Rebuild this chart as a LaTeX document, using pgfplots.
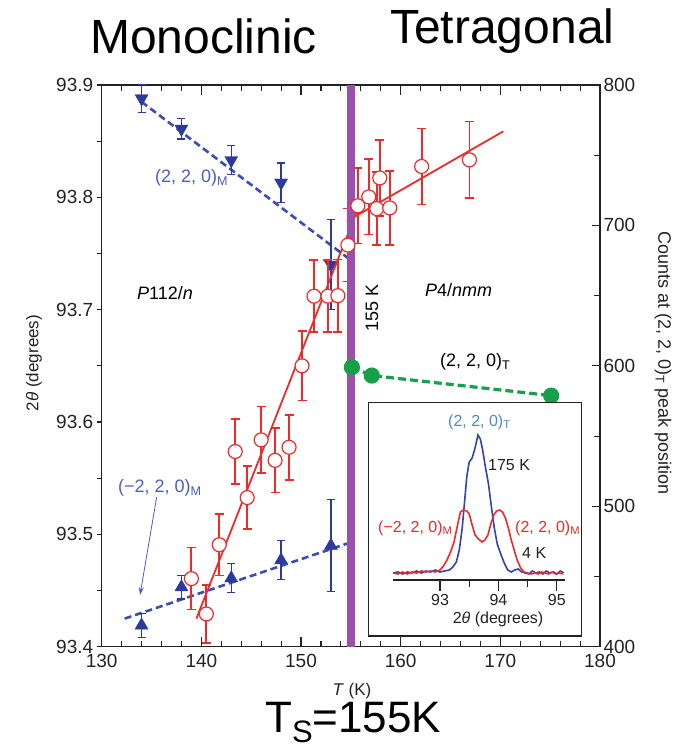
\documentclass[border=0pt]{standalone}
\usepackage{fontspec}
\setmainfont{Liberation Sans}
\usepackage{pgfplots}
\pgfplotsset{compat=1.18}
\usetikzlibrary{arrows.meta}

\definecolor{triblue}{HTML}{2B3A9C}
\definecolor{dashblue}{HTML}{3A4DB5}
\definecolor{lblblue}{HTML}{4A5DC4}
\definecolor{ptred}{HTML}{EE2A2A}
\definecolor{ptgreen}{HTML}{16A04A}
\definecolor{tspurple}{HTML}{9B50AA}
\definecolor{insetblue}{HTML}{3344AA}
\definecolor{insetlbl}{HTML}{4F86D8}
\definecolor{axisgray}{HTML}{222222}

\newcommand{\fs}[1]{\fontsize{#1}{#1}\selectfont}

\pgfplotsset{
  mainframe/.style={
    scale only axis, width=498.3pt, height=561.7pt,
    at={(101.7pt,100.3pt)}, anchor=south west,
    xmin=130, xmax=180,
    axis line style={line width=1.2pt, axisgray},
    every tick/.style={line width=1.1pt, axisgray},
    ticklabel style={font=\fs{19}, text=axisgray},
    /pgf/number format/assume math mode=true,
  },
}

\begin{document}
\begin{tikzpicture}[x=1pt, y=1pt, lbl/.style={inner sep=0pt}]
\path[use as bounding box] (0,0) rectangle (690,747);

% 2theta of the monoclinic reflections (left scale)
\begin{axis}[mainframe, ymin=93.4, ymax=93.9, ytick=\empty,
  xtick={130,140,150,160,170,180}, minor x tick num=4,
  xticklabel style={yshift=-4pt},
  tick align=inside, major tick length=10pt, minor tick length=6pt]
  % (2,2,0)_M
  \addplot[dashblue, line width=2.6pt, dash pattern=on 7pt off 4pt] coordinates {(134,93.885) (155,93.744)};
  \addplot[only marks, mark=triangle*, mark size=7.5pt, color=triblue,
    mark options={rotate=180, fill=triblue},
    error bars/.cd, y dir=both, y explicit,
    error bar style={line width=1.2pt, triblue},
    error mark options={rotate=90, triblue, mark size=4pt, line width=1.2pt}]
  coordinates {
    (134,93.888) +- (0,0.0125)
    (138,93.861) +- (0,0.009)
    (143,93.833) +- (0,0.013)
    (148,93.813) +- (0,0.0175)
    (153,93.740) +- (0,0.040)
  };
  % (-2,2,0)_M
  \addplot[dashblue, line width=2.6pt, dash pattern=on 7pt off 4pt] coordinates {(132.3,93.425) (154.7,93.492)};
  \addplot[only marks, mark=triangle*, mark size=7.5pt, color=triblue,
    mark options={fill=triblue},
    error bars/.cd, y dir=both, y explicit,
    error bar style={line width=1.2pt, triblue},
    error mark options={rotate=90, triblue, mark size=4pt, line width=1.2pt}]
  coordinates {
    (134,93.419) +- (0,0.0105)
    (138,93.453) +- (0,0.0105)
    (143,93.461) +- (0,0.013)
    (148,93.477) +- (0,0.0175)
    (153,93.490) +- (0,0.041)
  };
\end{axis}

% left scale with outward ticks
\begin{axis}[mainframe, ymin=93.4, ymax=93.9, axis x line=none, axis y line*=left,
  ytick={93.4,93.5,93.6,93.7,93.8,93.9}, minor y tick num=1,
  tick align=outside, major tick length=5pt, minor tick length=5pt,
  yticklabel style={/pgf/number format/.cd, fixed, fixed zerofill, precision=1}]
\end{axis}

% counts at the tetragonal peak position (right scale)
\begin{axis}[mainframe, ymin=400, ymax=800, axis x line=none, axis y line*=right,
  ytick={400,500,600,700,800}, minor y tick num=1,
  tick align=inside, major tick length=8pt, minor tick length=6pt]
  % linear fits below and above T_S
  \addplot[ptred, line width=1.8pt] coordinates {(139.5,420) (155.6,710)};
  \addplot[ptred, line width=1.8pt] coordinates {(154.6,703) (170.3,767)};
  \addplot[only marks, mark=*, mark size=7pt, color=ptred,
    mark options={draw=ptred, fill=white, line width=1.2pt},
    error bars/.cd, y dir=both, y explicit,
    error bar style={line width=1.8pt, ptred},
    error mark options={rotate=90, ptred, mark size=4.5pt, line width=1.6pt}]
  coordinates {
    (139.0,448.5) +- (0,22)
    (140.5,423.3) +- (0,20.6)
    (141.8,472.6) +- (0,21.8)
    (143.4,539.0) +- (0,23.2)
    (144.6,506.2) +- (0,22.5)
    (146.0,547.3) +- (0,23.7)
    (147.4,532.7) +- (0,23.0)
    (148.8,542.0) +- (0,23.2)
    (150.1,600.0) +- (0,24.7)
    (151.3,649.6) +- (0,25.6)
    (152.7,649.6) +- (0,25.6)
    (153.7,650.0) +- (0,25.8)
    (154.7,686.0) +- (0,26.0)
    (155.7,714.0) +- (0,26.8)
    (156.8,720.3) +- (0,26.8)
    (157.6,712.0) +- (0,26.0)
    (157.9,733.8) +- (0,27.0)
    (158.9,712.5) +- (0,26.4)
    (162.1,742.0) +- (0,27.0)
    (166.9,746.7) +- (0,27.3)
  };
  % (2,2,0)_T counts
  \addplot[ptgreen, line width=3.2pt, dash pattern=on 8pt off 4pt,
    mark=*, mark size=6.5pt, mark options={solid, fill=ptgreen}]
  coordinates {(155.1,599.0) (157.1,593.1) (175.1,578.8)};
  % structural transition
  \addplot[tspurple, line width=8pt] coordinates {(155,400) (155,800)};
\end{axis}

% inset: line scans at 175 K and 4 K
\draw[draw=axisgray, fill=white, line width=1.2pt] (368.3,111) rectangle (581.7,344.3);
\begin{axis}[scale only axis, width=172.3pt, height=160pt,
  at={(392.7pt,167pt)}, anchor=south west,
  xmin=92.19, xmax=95.14, ymin=0, ymax=160,
  axis x line*=bottom, axis y line=none,
  axis line style={line width=1.2pt, axisgray},
  every tick/.style={line width=1.1pt, axisgray},
  xtick={93,94,95}, minor xtick={93.5,94.5},
  tick align=outside, major tick length=11pt, minor tick length=7pt,
  ticklabel style={font=\fs{16}, text=axisgray},
  /pgf/number format/assume math mode=true, clip=false]
  \addplot[insetblue, line width=1.6pt] coordinates {
    (92.20,7) (92.28,8) (92.36,6) (92.44,8) (92.52,7) (92.60,9) (92.68,7)
    (92.76,9) (92.84,8) (92.92,10) (93.00,8) (93.08,9) (93.16,10) (93.22,13)
    (93.28,18) (93.33,30) (93.38,52) (93.42,78) (93.46,104) (93.50,118)
    (93.55,122) (93.60,132) (93.65,145) (93.69,141) (93.73,130) (93.78,112)
    (93.83,96) (93.88,73) (93.93,52) (93.98,36) (94.04,26) (94.10,17)
    (94.16,10) (94.22,8) (94.28,10) (94.34,11) (94.40,8) (94.46,7) (94.52,6)
    (94.58,9) (94.64,7) (94.70,8) (94.76,6) (94.82,9) (94.88,7) (94.94,8)
    (95.00,6) (95.06,9) (95.12,7)
  };
  \addplot[ptred, line width=1.6pt] coordinates {
    (92.20,7) (92.28,6) (92.36,8) (92.44,6) (92.52,8) (92.60,7) (92.68,9)
    (92.76,8) (92.84,9) (92.92,8) (93.00,10) (93.06,14) (93.12,20) (93.18,28)
    (93.24,38) (93.30,55) (93.35,68) (93.40,70) (93.46,69) (93.50,66)
    (93.55,55) (93.60,45) (93.66,41) (93.72,38) (93.77,40) (93.82,45)
    (93.87,56) (93.92,65) (93.97,69) (94.02,70) (94.07,68) (94.12,62)
    (94.17,52) (94.22,40) (94.27,30) (94.32,20) (94.38,12) (94.44,8)
    (94.50,7) (94.56,6) (94.62,7) (94.68,6) (94.74,8) (94.80,7) (94.86,6)
    (94.92,8) (94.98,6) (95.04,7) (95.10,6)
  };
\end{axis}

% titles
\node[lbl, anchor=base west, font=\fs{48}] at (90,693) {Monoclinic};
\node[lbl, anchor=base west, font=\fs{48}] at (390,703) {Tetragonal};
\node[lbl, anchor=base west, font=\fs{44}] at (265,14) {T\raisebox{-9pt}{\fs{31}S}=155K};

% axis labels
\node[lbl, anchor=base, font=\fs{17}, text=axisgray] at (352,51) {\textit{T} (K)};
\node[lbl, rotate=90, font=\fs{17}, text=axisgray] at (34,384) {2\textit{θ} (degrees)};
\node[lbl, rotate=-90, font=\fs{18}, text=axisgray] at (663,384) {Counts at (2, 2, 0)\textsubscript{T} peak position};

% annotations in the main panel
\node[lbl, anchor=west, text=lblblue, font=\fs{18}] at (155,569) {(2, 2, 0)\textsubscript{M}};
\node[lbl, anchor=west, font=\fs{18}] at (137,454) {\textit{P}112/\textit{n}};
\node[lbl, anchor=west, text=lblblue, font=\fs{18}] at (118,259) {(−2, 2, 0)\textsubscript{M}};
\draw[lblblue, line width=0.8pt, -{Stealth[length=8pt,width=5pt]}] (156.7,250) -- (140,152);
\node[lbl, rotate=90, font=\fs{18}] at (372,439) {155 K};
\node[lbl, anchor=west, font=\fs{18}] at (425,457) {\textit{P}4/\textit{nmm}};
\node[lbl, anchor=west, font=\fs{18}] at (440,385) {(2, 2, 0)\textsubscript{T}};

% annotations in the inset
\begin{scope}[every node/.append style={font=\fs{16}}]
\node[lbl, anchor=west, text=insetlbl] at (448,325) {(2, 2, 0)\textsubscript{T}};
\node[lbl, anchor=west, text=axisgray] at (488,282) {175 K};
\node[lbl, anchor=west, text=ptred] at (378,219) {(−2, 2, 0)\textsubscript{M}};
\node[lbl, anchor=west, text=ptred] at (515,219) {(2, 2, 0)\textsubscript{M}};
\node[lbl, anchor=west, text=axisgray] at (522,194) {4 K};
\node[lbl, text=axisgray] at (498,128) {2\textit{θ} (degrees)};
\end{scope}
\end{tikzpicture}
\end{document}
